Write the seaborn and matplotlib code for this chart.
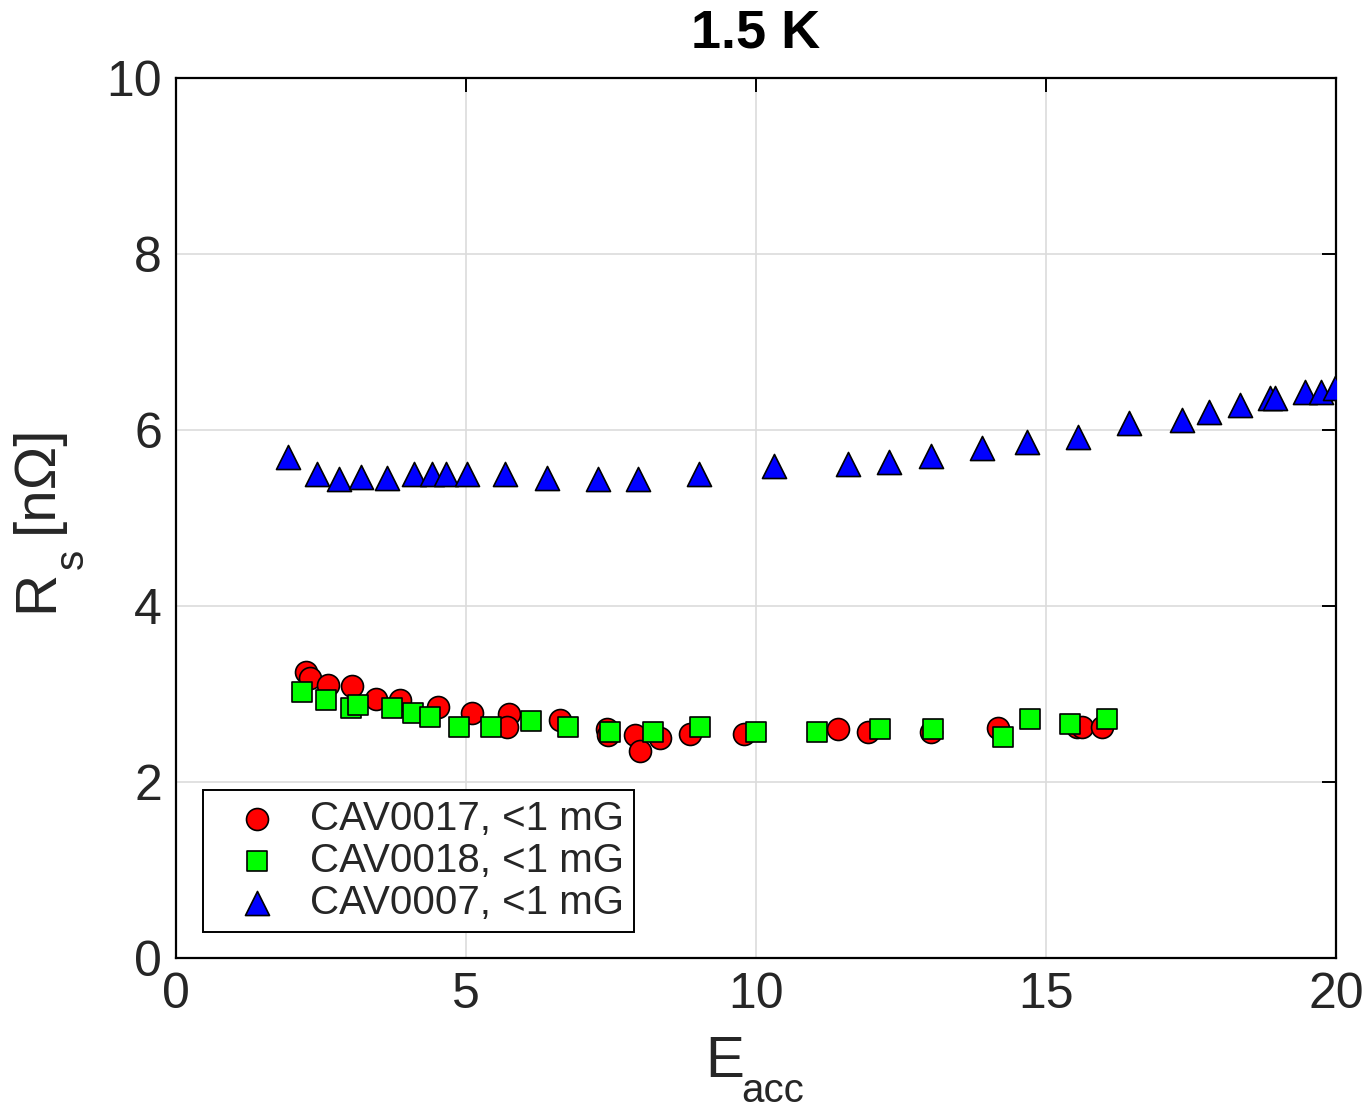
import numpy as np
import pandas as pd
import matplotlib
matplotlib.use("Agg")
import matplotlib.pyplot as plt
import seaborn as sns

# CAV0017 (red circles)
e17 = [2.24, 2.31, 2.62, 3.03, 3.45, 3.86, 4.51, 5.10, 5.74, 5.71, 6.62, 7.43, 7.45,
       7.91, 8.00, 8.34, 8.86, 9.79, 11.41, 11.93, 13.02, 14.17, 15.53, 15.62, 15.97]
r17 = [3.25, 3.18, 3.10, 3.09, 2.94, 2.93, 2.85, 2.78, 2.77, 2.62, 2.70, 2.60, 2.53,
       2.53, 2.35, 2.50, 2.54, 2.54, 2.60, 2.57, 2.57, 2.61, 2.63, 2.63, 2.63]

# CAV0018 (green squares)
e18 = [2.17, 2.59, 3.02, 3.14, 3.72, 4.09, 4.38, 4.88, 5.43, 6.12, 6.76, 7.48, 8.22,
       9.03, 10.00, 11.05, 12.14, 13.05, 14.26, 14.72, 15.41, 16.05]
r18 = [3.02, 2.93, 2.84, 2.88, 2.84, 2.78, 2.74, 2.63, 2.63, 2.69, 2.63, 2.57, 2.57,
       2.63, 2.57, 2.57, 2.60, 2.60, 2.51, 2.72, 2.66, 2.72]

# CAV0007 (blue triangles)
e07 = [1.93, 2.43, 2.81, 3.19, 3.64, 4.10, 4.42, 4.66, 5.02, 5.67, 6.40, 7.27, 7.96,
       9.02, 10.31, 11.59, 12.29, 13.02, 13.90, 14.67, 15.55, 16.43, 17.34, 17.81,
       18.34, 18.86, 18.95, 19.47, 19.74, 19.98]
r07 = [5.69, 5.50, 5.44, 5.47, 5.46, 5.50, 5.50, 5.50, 5.50, 5.50, 5.45, 5.44, 5.44,
       5.50, 5.59, 5.61, 5.64, 5.70, 5.80, 5.86, 5.92, 6.08, 6.11, 6.20, 6.28, 6.36,
       6.36, 6.43, 6.43, 6.48]

labels = ["CAV0017, <1 mG", "CAV0018, <1 mG", "CAV0007, <1 mG"]
title = "1.5 K"

sns.set_theme(style="white")
plt.rcParams['font.family'] = ['Liberation Sans', 'DejaVu Sans']

W, H = 1364, 1109
fig = plt.figure(figsize=(W / 100, H / 100), dpi=100)
ax = fig.add_axes([176/W, 1 - 958/H, 1160/W, 880/H])

series = [
    (e17, r17, labels[0], "o", "#ff0000", 250),
    (e18, r18, labels[1], "s", "#00ff00", 190),
    (e07, r07, labels[2], "^", "#0000ff", 300),
]
for e, r, lab, m, c, s in series:
    df = pd.DataFrame({"E": e, "R": r})
    sns.scatterplot(data=df, x="E", y="R", ax=ax, marker=m, color=c, s=s,
                    edgecolor="black", linewidth=1.2, label=lab, zorder=3)

ax.set_xlim(0, 20)
ax.set_ylim(0, 10)
ax.set_xticks([0, 5, 10, 15, 20])
ax.set_yticks([0, 2, 4, 6, 8, 10])
ax.grid(True, color="#dcdcdc", linewidth=1.2)
ax.set_axisbelow(True)
for sp in ax.spines.values():
    sp.set_color("black")
    sp.set_linewidth(1.6)
ax.tick_params(axis="both", which="both", direction="in", length=10, width=1.4,
               top=True, right=True, labelsize=36, colors="black", pad=10)
ax.tick_params(axis="both", labelcolor="#262626")
ax.set_xlabel("")
ax.set_ylabel("")

# axis labels with MATLAB-style low subscripts
def px(x, y):
    return x / W, 1 - y / H

lab_col = "#262626"
fig.text(*px(705, 1077), "E", fontsize=42, color=lab_col, ha="left", va="baseline")
fig.text(*px(741, 1102), "acc", fontsize=29, color=lab_col, ha="left", va="baseline")
fig.text(*px(52, 612), "R", fontsize=42, color=lab_col, ha="left", va="baseline",
         rotation=90, rotation_mode="anchor")
fig.text(*px(83, 569), "s", fontsize=29, color=lab_col, ha="left", va="baseline",
         rotation=90, rotation_mode="anchor")
fig.text(*px(52, 533), "[n\u03a9]", fontsize=42, color=lab_col, ha="left", va="baseline",
         rotation=90, rotation_mode="anchor")

ax.set_title(title, fontsize=39, fontweight="bold", pad=22, color="black")

leg = ax.legend(loc="lower left", bbox_to_anchor=(27/1160, 26/880), borderaxespad=0,
                fontsize=29, frameon=True, fancybox=False, framealpha=1,
                edgecolor="black", handletextpad=0.2, borderpad=0.25,
                labelspacing=0.1, handlelength=2.2)
leg.get_frame().set_linewidth(1.4)

fig.savefig("out.png", dpi=100)
